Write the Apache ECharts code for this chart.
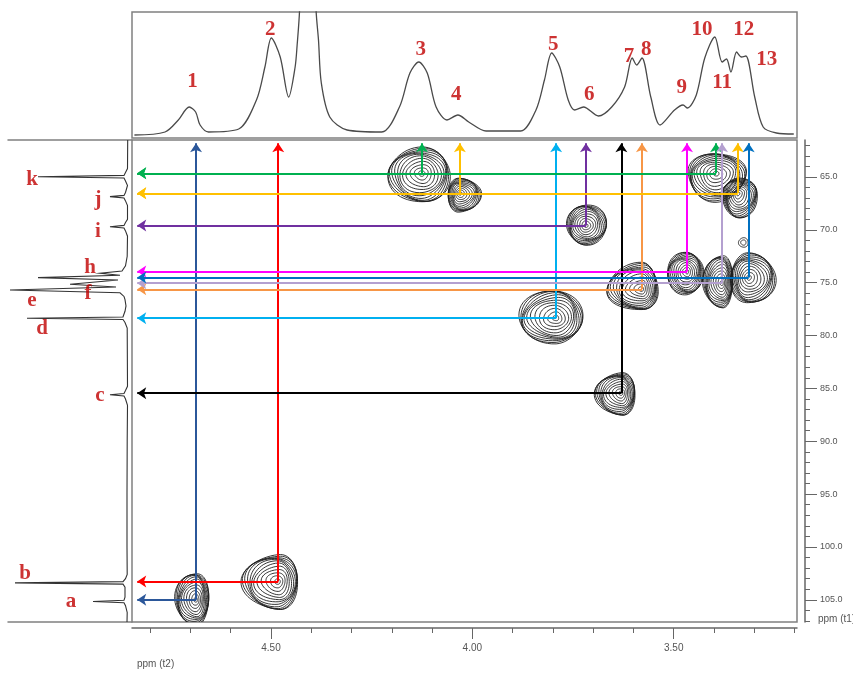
<!DOCTYPE html>
<html><head><meta charset="utf-8">
<script src="https://cdn.jsdelivr.net/npm/echarts@6/dist/echarts.min.js"></script>
<style>html,body{margin:0;padding:0;background:#fff}#c{width:853px;height:675px}</style>
</head><body><div id="c"></div>
<script>
// ---------- 1H projection (top), ppm and intensity ----------
const topPpm = [4.839,4.763,4.730,4.703,4.687,4.676,4.655,4.580,4.536,4.515,4.499,4.477,4.456,4.440,4.435,4.429,4.409,4.388,4.382,4.375,4.354,4.311,4.225,4.181,4.155,4.133,4.112,4.090,4.063,4.036,4.009,3.966,3.880,3.842,3.821,3.803,3.783,3.762,3.746,3.724,3.687,3.654,3.622,3.603,3.592,3.579,3.557,3.534,3.498,3.477,3.466,3.444,3.423,3.398,3.380,3.369,3.358,3.344,3.332,3.321,3.299,3.278,3.245,3.202];
const topInt = [0,3,15,28,23,10,3,6,35,68,97,78,38,68,90,125,400,125,95,52,18,5,3,28,62,73,62,28,15,20,13,4,4,25,55,82,68,35,25,28,19,28,48,77,70,77,38,10,25,30,27,40,77,98,73,76,63,83,78,79,38,8,2,1];

// ---------- 13C projection (left), ppm and intensity ----------
const leftPpm = [61.5,64.2,64.57,64.85,64.97,65.09,65.37,65.8,66.46,66.74,66.86,66.98,67.26,67.7,69.0,69.30,69.58,69.70,69.82,70.10,70.6,72.5,73.4,73.9,74.1,74.3,74.52,74.75,75.15,75.4,75.69,75.95,76.3,76.6,77.2,77.7,77.96,78.24,78.36,78.48,78.76,79.3,84.8,85.2,85.48,85.6,85.72,86.0,86.6,90.0,95.0,100.0,102.6,103.0,103.28,103.4,103.52,103.8,104.6,104.76,105.04,105.16,105.28,105.56,106.2,107.1];
const leftInt = [0.3,0.5,2.5,4,90,4,2.5,0.5,2.5,4,18,4,2.5,0.5,0.5,2.5,4,18,4,2.5,0.5,0.8,2.5,6,28,8,90,10,58,12,118,8,4,3,2,3,4,5,101,5,3,0.8,0.5,2.5,4,18,4,2.5,0.5,0.8,1,1,0.8,2.5,5,113,5,3,3,3,4,35,4,2.5,0.8,1];

// ---------- cross peaks (HSQC correlations) ----------
const peakNames = ['1','2','3','4','5','6','7','8','9','10','11','12','13'];
const crossH = [4.686,4.482,4.125,4.031,3.792,3.718,3.630,3.579,3.467,3.395,3.380,3.341,3.314];
const crossC = [105.0,103.27,64.65,66.54,78.36,69.6,85.45,75.62,73.95,64.65,75.05,66.54,74.52];

// contour extents (ppm): left, right (1H) and up, down (13C)
const contourH = [4.686,4.482,4.125,4.031,3.792,3.718,3.630,3.579,3.467,3.395,3.380,3.341,3.314,3.327];
const contourC = [105.0,103.27,64.65,66.54,78.36,69.6,85.45,75.62,73.95,64.65,75.05,66.54,74.52,71.2];
const contourL = [0.052,0.089,0.084,0.030,0.094,0.047,0.065,0.087,0.050,0.070,0.047,0.037,0.045,0.012];
const contourR = [0.032,0.050,0.070,0.052,0.065,0.052,0.035,0.040,0.040,0.074,0.027,0.050,0.067,0.012];
const contourT = [2.55,2.52,2.4,1.4,2.65,2.0,1.9,2.46,1.8,1.9,2.65,1.4,2.27,0.45];
const contourB = [2.36,2.65,2.8,1.8,2.35,1.8,2.1,2.0,2.2,2.65,2.27,2.36,2.46,0.45];

// ---------- label anchors ----------
const numPpm = [4.695,4.502,4.128,4.040,3.799,3.710,3.611,3.568,3.480,3.430,3.380,3.326,3.269];
const numInt = [53,105,85,40,90,40,78,85,47,105,52,105,75];
const letters = ['k','j','i','h','f','e','d','c','b','a'];
const letterPpm = [65.28,67.1,70.2,73.6,76.0,76.7,79.3,85.7,102.5,105.2];
const letterInt = [96,30,30,38,40,96,86,28,103,57];

// ---------- axis ticks ----------
const xMinorTicks = [3.2,3.3,3.4,3.5,3.6,3.7,3.8,3.9,4.0,4.1,4.2,4.3,4.4,4.5,4.6,4.7,4.8];
const xMajorTicks = [3.5,4.0,4.5];
const yMinorTicks = [62,63,64,65,66,67,68,69,70,71,72,73,74,75,76,77,78,79,80,81,82,83,84,85,86,87,88,89,90,91,92,93,94,95,96,97,98,99,100,101,102,103,104,105,106,107];
const yMajorTicks = [65,70,75,80,85,90,95,100,105];

// ---------- styles ----------
const arrowColors = ['#2B579A','#FF0000','#00B050','#FFC000','#00B0F0','#7030A0','#000000','#F79646','#FF00FF','#00B050','#B4A0D0','#FFC000','#0070C0'];
const X0 = 3.194, X1 = 4.845, Y0 = 61.5, Y1 = 107.1;
const TOP_TIP = 61.8, LEFT_TIP = 4.832;
const RED = '#C00000';

const chart = echarts.init(document.getElementById('c'), null, {renderer:'canvas'});

const arrowData = [];
crossH.forEach((h,i)=>{
  arrowData.push({coords:[[h,crossC[i]],[h,TOP_TIP]], lineStyle:{color:arrowColors[i]}});
});
crossH.forEach((h,i)=>{
  arrowData.push({coords:[[h,crossC[i]],[LEFT_TIP,crossC[i]]], lineStyle:{color:arrowColors[i]}});
});

const ringFr = [0.1,0.22,0.34,0.46,0.57,0.67,0.75,0.82,0.88,0.93,0.97,1];
const ringFrSmall = [0.55,1];

const option = {
  animation:false,
  grid:[
    {left:132, top:12, width:665, height:126, show:true, borderColor:'#808080', borderWidth:1.5, backgroundColor:'transparent'},
    {left:132, top:140, width:665, height:482, show:true, borderColor:'#808080', borderWidth:1.5, backgroundColor:'transparent'},
    {left:8, top:140, width:124, height:482, show:false}
  ],
  xAxis:[
    {gridIndex:0, type:'value', min:X0, max:X1, inverse:true, show:false},
    {gridIndex:1, type:'value', min:X0, max:X1, inverse:true, position:'bottom', offset:6,
      axisLine:{show:true, onZero:false, lineStyle:{color:'#666', width:1.5}},
      axisTick:{show:true, customValues:xMinorTicks, length:5, lineStyle:{color:'#666'}},
      axisLabel:{show:true, customValues:xMajorTicks, formatter:v=>v.toFixed(2), fontSize:10, color:'#555', margin:15, fontFamily:'Liberation Sans'},
      splitLine:{show:false}},
    {gridIndex:1, type:'value', min:X0, max:X1, inverse:true, position:'bottom', offset:6,
      axisLine:{show:false, onZero:false},
      axisTick:{show:true, customValues:xMajorTicks, length:11, lineStyle:{color:'#666'}},
      axisLabel:{show:false}, splitLine:{show:false}},
    {gridIndex:2, type:'value', min:-4, max:120, inverse:true, position:'bottom',
      axisLine:{show:true, onZero:false, lineStyle:{color:'#808080', width:1.5}},
      axisTick:{show:false}, axisLabel:{show:false}, splitLine:{show:false}},
    {gridIndex:2, type:'value', min:-4, max:120, inverse:true, position:'top',
      axisLine:{show:true, onZero:false, lineStyle:{color:'#808080', width:1.5}},
      axisTick:{show:false}, axisLabel:{show:false}, splitLine:{show:false}}
  ],
  yAxis:[
    {gridIndex:0, type:'value', min:-3, max:123, show:false},
    {gridIndex:1, type:'value', min:Y0, max:Y1, inverse:true, position:'right', offset:8,
      axisLine:{show:true, onZero:false, lineStyle:{color:'#666', width:1.5}},
      axisTick:{show:true, customValues:yMinorTicks, length:5, lineStyle:{color:'#666'}},
      axisLabel:{show:true, customValues:yMajorTicks, formatter:v=>v.toFixed(1), fontSize:9, color:'#555', margin:15, fontFamily:'Liberation Sans'},
      splitLine:{show:false}},
    {gridIndex:1, type:'value', min:Y0, max:Y1, inverse:true, position:'right', offset:8,
      axisLine:{show:false, onZero:false},
      axisTick:{show:true, customValues:yMajorTicks, length:12, lineStyle:{color:'#666'}},
      axisLabel:{show:false}, splitLine:{show:false}},
    {gridIndex:2, type:'value', min:Y0, max:Y1, inverse:true, show:false}
  ],
  graphic:[
    {type:'text', left:137, top:659, style:{text:'ppm (t2)', fontSize:10, fill:'#555', fontFamily:'Liberation Sans'}},
    {type:'text', left:818, top:614, style:{text:'ppm (t1)', fontSize:10, fill:'#555', fontFamily:'Liberation Sans'}}
  ],
  series:[
    {type:'line', xAxisIndex:0, yAxisIndex:0, data:topPpm.map((p,i)=>[p,topInt[i]]),
      showSymbol:false, smooth:0.3, clip:true, lineStyle:{color:'#4a4a4a', width:1.3}, silent:true},
    {type:'custom', xAxisIndex:3, yAxisIndex:3, clip:true, silent:true,
      data:leftPpm.map((p,i)=>[leftInt[i],p]),
      renderItem:function(params, api){
        if(params.dataIndex !== 0) return null;
        const pts = leftPpm.map((p,i)=>api.coord([leftInt[i],p]));
        return {type:'polyline', shape:{points:pts}, style:{fill:'none', stroke:'#333', lineWidth:1.1}};
      }},
    {type:'custom', xAxisIndex:1, yAxisIndex:1, clip:true, silent:true, z:3,
      data:contourH.map((h,i)=>[h,contourC[i],contourL[i],contourR[i],contourT[i],contourB[i]]),
      renderItem:function(params, api){
        const h=api.value(0), c=api.value(1);
        const p=api.coord([h,c]);
        const L=Math.abs(api.coord([h+api.value(2),c])[0]-p[0]);
        const R=Math.abs(api.coord([h-api.value(3),c])[0]-p[0]);
        const T=Math.abs(api.coord([h,c-api.value(4)])[1]-p[1]);
        const B=Math.abs(api.coord([h,c+api.value(5)])[1]-p[1]);
        const fr = Math.max(L,R,T,B) < 10 ? ringFrSmall : ringFr;
        const children=[];
        fr.forEach((f,k)=>{
          const pts=[];
          for(let i=0;i<56;i++){
            const t=i/56*2*Math.PI, ct=Math.cos(t), st=Math.sin(t);
            const w=1+0.04*Math.sin(3*t+k*0.9+params.dataIndex*1.3);
            pts.push([p[0]+(ct<0?L:R)*f*ct*w, p[1]+(st<0?T:B)*f*st*w]);
          }
          children.push({type:'polygon', shape:{points:pts}, style:{fill:'none', stroke:'#1e1e1e', lineWidth:0.9}});
        });
        return {type:'group', children};
      }},
    {type:'lines', coordinateSystem:'cartesian2d', xAxisIndex:1, yAxisIndex:1, z:5, silent:true,
      symbol:['none','arrow'], symbolSize:9, lineStyle:{width:2, opacity:1, curveness:0},
      data:arrowData},
    {type:'scatter', xAxisIndex:0, yAxisIndex:0, symbolSize:1, itemStyle:{color:'transparent'}, silent:true, z:6,
      data:peakNames.map((n,i)=>({name:n, value:[numPpm[i],numInt[i]]})),
      label:{show:true, position:'inside', formatter:'{b}', color:RED, fontSize:21, fontWeight:'bold', fontFamily:'Liberation Serif'}},
    {type:'scatter', xAxisIndex:3, yAxisIndex:3, symbolSize:1, itemStyle:{color:'transparent'}, silent:true, z:6,
      data:letters.map((n,i)=>({name:n, value:[letterInt[i],letterPpm[i]]})),
      label:{show:true, position:'inside', formatter:'{b}', color:RED, fontSize:21, fontWeight:'bold', fontFamily:'Liberation Serif'}}
  ]
};
chart.setOption(option);
</script>
</body></html>
